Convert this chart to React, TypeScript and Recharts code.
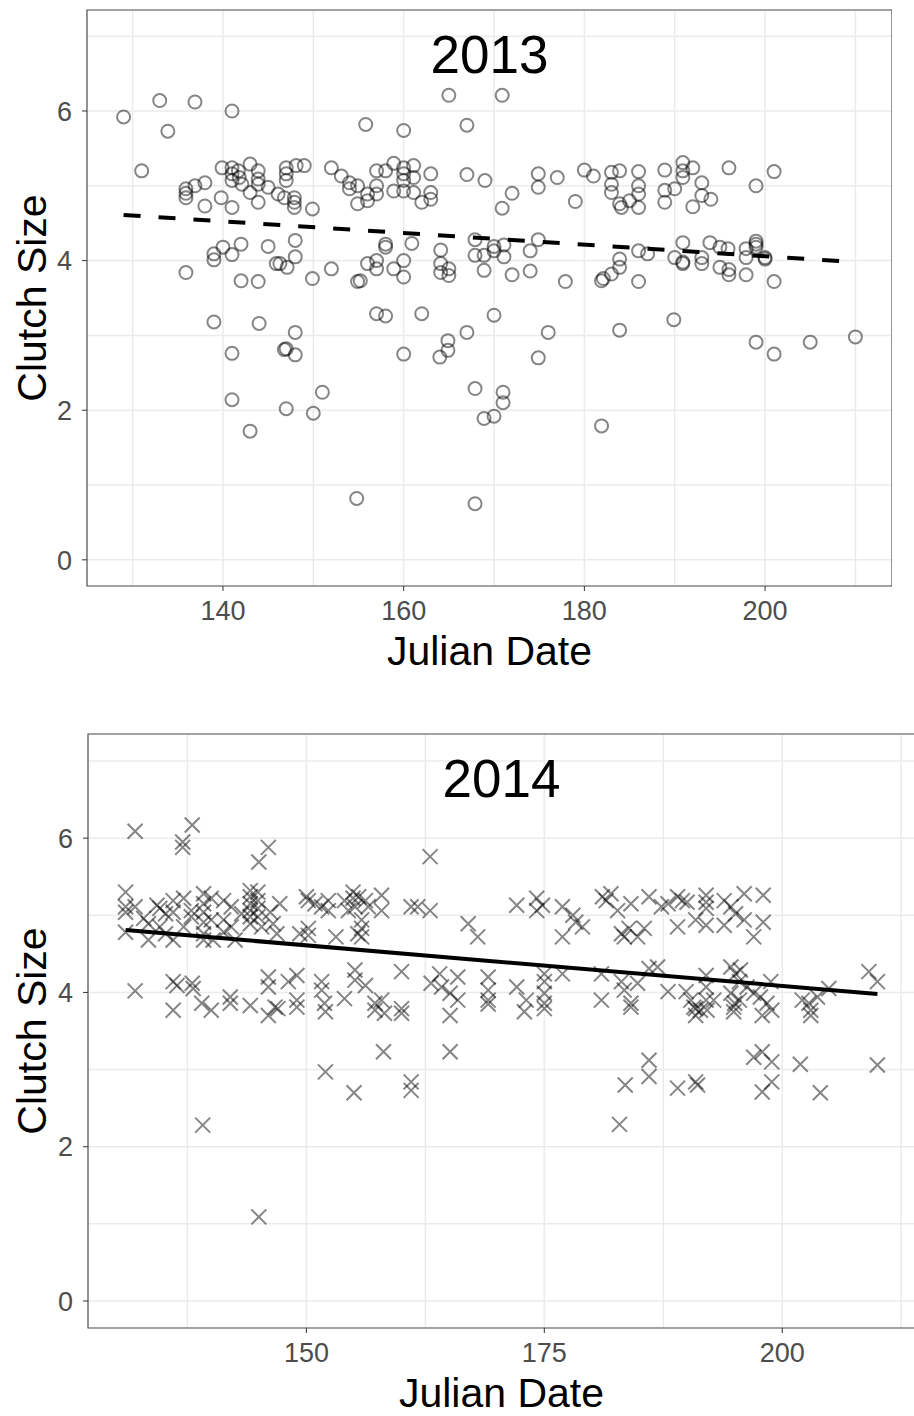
import { ScatterChart, Scatter, XAxis, YAxis, CartesianGrid, ReferenceArea, ReferenceLine, Label } from 'recharts';

// 2013 season: julian date of first egg and clutch size (jittered)
const date2013 = [
  129.0, 133.0, 136.9, 133.9, 141.0, 131.0, 135.9, 135.9, 135.9, 136.9, 138.0, 138.0, 139.9, 139.8, 141.0, 141.0,
  141.0, 141.0, 141.7, 141.8, 142.1, 143.0, 143.0, 143.9, 143.9, 143.9, 143.9, 145.0, 146.1, 147.0, 147.0, 147.0,
  146.8, 147.9, 147.9, 147.9, 148.1, 149.0, 149.9, 152.0, 153.1, 154.0, 154.0, 154.9, 154.9, 155.8, 140.0, 142.0,
  139.0, 139.0, 141.0, 145.0, 148.0, 148.0, 145.9, 146.3, 147.1, 135.9, 142.0, 143.9, 149.9, 152.0, 154.9, 139.0,
  144.0, 148.0, 141.0, 147.0, 146.8, 148.0, 151.0, 141.0, 147.0, 150.0, 143.0, 154.8, 165.0, 170.9, 160.0, 167.0,
  156.0, 156.0, 157.0, 157.0, 157.0, 158.0, 158.9, 158.9, 160.0, 160.0, 160.0, 160.0, 161.1, 161.1, 161.1, 162.0,
  163.0, 163.0, 163.0, 167.0, 169.0, 172.0, 170.9, 174.9, 174.9, 177.0, 179.0, 180.0, 181.0, 183.0, 183.0, 183.0,
  183.9, 183.9, 184.1, 185.0, 158.0, 158.0, 160.9, 164.1, 167.9, 170.0, 170.0, 171.1, 174.0, 174.9, 155.2, 156.0,
  157.0, 157.0, 158.9, 160.0, 160.0, 164.1, 164.1, 165.0, 165.0, 167.9, 168.9, 168.9, 171.1, 172.0, 174.0, 177.9,
  181.9, 182.1, 183.0, 183.9, 183.9, 157.0, 158.0, 162.0, 170.0, 164.9, 164.9, 167.0, 160.0, 164.0, 176.0, 174.9,
  183.9, 167.9, 171.0, 171.0, 168.9, 170.0, 181.9, 167.9, 186.0, 186.0, 186.0, 186.0, 188.9, 188.9, 188.9, 190.0,
  190.9, 190.9, 190.9, 192.0, 193.0, 193.0, 192.0, 194.0, 196.0, 199.0, 201.0, 186.0, 187.0, 186.0, 190.9, 190.0,
  190.9, 190.9, 193.0, 193.0, 193.9, 195.0, 195.9, 195.0, 196.0, 196.0, 197.9, 197.9, 197.9, 199.0, 199.0, 199.0,
  200.0, 200.0, 201.0, 189.9, 199.0, 201.0, 205.0, 210.0,
];
const clutch2013 = [
  5.92, 6.14, 6.12, 5.73, 6.0, 5.2, 4.96, 4.9, 4.84, 5.0, 5.04, 4.73, 5.24, 4.84, 5.24, 5.16,
  5.07, 4.71, 5.2, 5.11, 5.02, 5.29, 4.91, 5.2, 5.09, 5.02, 4.78, 4.98, 4.89, 5.24, 5.16, 5.07,
  4.84, 4.84, 4.78, 4.71, 5.27, 5.27, 4.69, 5.24, 5.13, 5.04, 4.96, 5.0, 4.76, 5.82, 4.18, 4.22,
  4.09, 4.01, 4.08, 4.19, 4.27, 4.05, 3.96, 3.96, 3.91, 3.84, 3.73, 3.72, 3.76, 3.89, 3.72, 3.18,
  3.16, 3.04, 2.76, 2.82, 2.81, 2.74, 2.24, 2.14, 2.02, 1.96, 1.72, 0.82, 6.21, 6.21, 5.74, 5.81,
  4.89, 4.8, 5.2, 5.0, 4.89, 5.2, 5.3, 4.93, 5.24, 5.16, 5.07, 4.93, 5.27, 5.11, 4.91, 4.78,
  5.16, 4.91, 4.82, 5.15, 5.07, 4.9, 4.7, 5.16, 4.98, 5.11, 4.79, 5.21, 5.13, 5.18, 5.02, 4.91,
  5.2, 4.76, 4.71, 4.8, 4.22, 4.18, 4.23, 4.14, 4.28, 4.19, 4.13, 4.21, 4.13, 4.28, 3.73, 3.96,
  4.0, 3.89, 3.89, 4.0, 3.78, 3.96, 3.84, 3.89, 3.8, 4.07, 4.07, 3.87, 4.05, 3.81, 3.86, 3.72,
  3.73, 3.76, 3.82, 4.02, 3.91, 3.29, 3.26, 3.29, 3.27, 2.93, 2.8, 3.04, 2.75, 2.71, 3.04, 2.7,
  3.07, 2.29, 2.24, 2.1, 1.89, 1.92, 1.79, 0.75, 5.19, 5.0, 4.89, 4.71, 5.21, 4.94, 4.78, 4.96,
  5.31, 5.2, 5.11, 5.24, 5.04, 4.87, 4.72, 4.82, 5.24, 5.0, 5.19, 4.13, 4.09, 3.72, 4.24, 4.04,
  3.98, 3.96, 4.04, 3.96, 4.24, 4.18, 4.16, 3.91, 3.88, 3.81, 4.16, 4.04, 3.81, 4.26, 4.22, 4.18,
  4.04, 4.02, 3.72, 3.21, 2.91, 2.75, 2.91, 2.98,
];

// 2014 season
const date2014 = [
  132.0, 138.0, 137.0, 137.0, 146.0, 145.0, 131.0, 131.0, 131.0, 131.0, 132.0, 132.9, 133.4, 133.4, 134.3, 134.6,
  135.2, 134.6, 135.2, 136.0, 136.0, 136.0, 137.1, 137.1, 137.9, 137.9, 139.2, 139.2, 139.2, 139.2, 139.2, 139.2,
  140.0, 140.0, 140.2, 141.3, 141.3, 141.3, 142.1, 142.1, 142.5, 143.2, 144.1, 144.1, 144.1, 144.1, 144.1, 144.1,
  144.9, 144.9, 144.9, 144.9, 145.3, 146.2, 146.5, 146.9, 147.2, 149.3, 150.0, 150.2, 150.2, 150.2, 150.9, 151.6,
  152.3, 152.3, 153.1, 154.0, 154.4, 154.9, 154.9, 155.1, 155.4, 132.0, 136.0, 136.4, 138.0, 138.1, 136.0, 139.0,
  140.0, 142.0, 142.0, 144.1, 146.0, 146.0, 148.1, 149.0, 149.0, 149.0, 146.7, 151.6, 151.6, 151.9, 154.0, 155.1,
  155.1, 152.0, 152.0, 155.0, 139.1, 145.0, 146.0, 147.0, 163.0, 155.5, 156.2, 156.5, 157.9, 157.9, 155.8, 155.8,
  155.8, 161.0, 161.7, 163.0, 167.0, 168.0, 172.1, 174.2, 174.2, 174.8, 176.9, 176.9, 178.0, 178.3, 179.0, 181.1,
  181.5, 182.0, 182.7, 183.1, 183.4, 160.0, 156.2, 157.2, 157.9, 160.0, 163.1, 164.0, 164.2, 165.1, 165.9, 165.9,
  169.1, 169.1, 169.1, 172.1, 173.1, 175.0, 175.0, 175.0, 175.0, 176.9, 181.0, 181.0, 183.1, 183.4, 157.2, 158.2,
  160.0, 165.1, 169.1, 172.9, 175.0, 158.1, 165.1, 161.0, 161.0, 183.5, 182.9, 184.1, 186.0, 187.3, 188.0, 189.0,
  189.5, 190.0, 192.0, 192.0, 192.0, 193.9, 194.6, 196.0, 198.0, 183.9, 185.5, 184.8, 189.0, 190.9, 192.0, 193.9,
  195.1, 196.0, 197.0, 198.0, 186.0, 186.9, 184.8, 184.1, 188.0, 189.9, 190.4, 190.7, 191.4, 192.0, 192.0, 192.0,
  192.8, 194.6, 195.1, 195.5, 195.6, 194.6, 195.0, 195.5, 196.3, 197.0, 197.7, 198.4, 198.8, 202.1, 202.8, 203.7,
  204.9, 209.1, 210.0, 184.1, 190.9, 190.9, 192.1, 194.9, 194.9, 197.9, 198.9, 203.0, 203.0, 186.0, 186.0, 189.0,
  190.9, 191.1, 197.0, 197.9, 198.9, 197.9, 198.9, 201.9, 204.0, 210.0,
];
const clutch2014 = [
  6.09, 6.17, 5.95, 5.88, 5.88, 5.69, 5.3, 5.11, 5.04, 4.78, 5.11, 4.96, 4.89, 4.68, 5.13, 5.09,
  5.02, 4.85, 4.76, 5.19, 5.04, 4.68, 5.22, 4.85, 5.06, 4.98, 5.28, 5.15, 5.04, 4.91, 4.76, 4.68,
  5.22, 4.94, 4.68, 5.19, 4.94, 4.78, 5.11, 4.85, 4.68, 5.02, 5.32, 5.24, 5.15, 5.06, 4.98, 4.89,
  5.3, 5.19, 5.09, 4.98, 4.85, 5.04, 4.89, 4.76, 5.15, 4.76, 5.24, 5.19, 4.83, 4.74, 5.15, 5.11,
  5.19, 5.06, 4.72, 5.19, 5.06, 5.3, 5.22, 5.11, 4.76, 4.02, 4.14, 4.09, 4.12, 4.05, 3.77, 3.86,
  3.77, 3.94, 3.86, 3.83, 4.2, 4.07, 4.14, 4.22, 3.9, 3.81, 3.81, 4.14, 4.03, 3.86, 3.92, 4.29,
  4.16, 3.75, 2.97, 2.7, 2.28, 1.09, 3.7, 3.79, 5.76, 5.24, 5.19, 5.11, 5.26, 5.06, 4.94, 4.83,
  4.72, 5.11, 5.11, 5.06, 4.89, 4.72, 5.13, 5.22, 5.06, 5.13, 5.11, 4.72, 5.0, 4.91, 4.85, 5.24,
  5.19, 5.28, 5.06, 4.76, 4.72, 4.27, 4.09, 3.86, 3.9, 3.79, 4.12, 4.24, 4.07, 3.99, 4.2, 3.9,
  4.2, 4.03, 3.9, 4.07, 3.9, 4.24, 4.14, 3.99, 3.86, 4.24, 4.24, 3.9, 4.14, 4.03, 3.77, 3.73,
  3.73, 3.7, 3.85, 3.75, 3.79, 3.23, 3.23, 2.84, 2.73, 2.8, 2.29, 5.15, 5.24, 5.11, 5.15, 5.24,
  5.19, 5.17, 5.26, 5.17, 5.09, 5.19, 5.11, 5.28, 5.26, 4.83, 4.83, 4.72, 4.85, 4.94, 4.87, 4.87,
  5.02, 4.94, 4.72, 4.91, 4.31, 4.33, 4.12, 3.86, 4.01, 4.01, 3.9, 3.81, 3.77, 4.22, 4.07, 3.9,
  3.9, 4.33, 4.24, 4.14, 4.29, 3.99, 3.86, 3.9, 4.07, 3.99, 3.94, 3.86, 4.14, 3.9, 3.86, 3.94,
  4.05, 4.27, 4.14, 3.81, 3.79, 3.7, 3.77, 3.81, 3.75, 3.7, 3.77, 3.77, 3.7, 3.12, 2.91, 2.76,
  2.84, 2.8, 3.16, 3.23, 3.1, 2.71, 2.84, 3.07, 2.7, 3.06,
];

// fitted regression lines, endpoints at the first and last nest
const trend2013 = [{ x: 129.0, y: 4.61 }, { x: 210.0, y: 3.98 }];
const trend2014 = [{ x: 131.0, y: 4.81 }, { x: 210.0, y: 3.98 }];

const majorX2013 = [140, 160, 180, 200];
const gridX2013 = [130, 140, 150, 160, 170, 180, 190, 200, 210];
const majorX2014 = [150, 175, 200];
const gridX2014 = [137.5, 150, 162.5, 175, 187.5, 200, 212.5];
const majorY = [0, 2, 4, 6];
const gridY = [0, 1, 2, 3, 4, 5, 6, 7];

const FONT = '"Liberation Sans", Arial, sans-serif';
const TICK_SIZE = 5;
const TICK_GAP = 10;

const pts2013 = date2013.map((x, i) => ({ x, y: clutch2013[i] }));
const pts2014 = date2014.map((x, i) => ({ x, y: clutch2014[i] }));

const OpenCircle = (p: any) => (
  <circle cx={p.cx} cy={p.cy} r={6.5} fill="none" stroke="rgba(0,0,0,0.48)" strokeWidth={2} />
);

const Cross = (p: any) => {
  const s = 7.5;
  return (
    <path
      d={`M${p.cx - s},${p.cy - s}L${p.cx + s},${p.cy + s}M${p.cx - s},${p.cy + s}L${p.cx + s},${p.cy - s}`}
      stroke="rgba(0,0,0,0.48)"
      strokeWidth={2}
      fill="none"
    />
  );
};

// tick mark + label, drawn only for the labelled (major) breaks
const makeXTick = (major: number[]) => (p: any) => {
  const v = p.payload.value;
  if (!major.includes(v)) return <g />;
  const top = p.y - TICK_GAP - TICK_SIZE;
  return (
    <g>
      <line x1={p.x} x2={p.x} y1={top} y2={top + TICK_SIZE} stroke="#333" strokeWidth={1} />
      <text x={p.x} y={p.y} dy="0.72em" textAnchor="middle" fontSize={27} fill="#4d4d4d" fontFamily={FONT}>
        {v}
      </text>
    </g>
  );
};

const makeYTick = (major: number[]) => (p: any) => {
  const v = p.payload.value;
  if (!major.includes(v)) return <g />;
  const right = p.x + TICK_GAP + TICK_SIZE;
  return (
    <g>
      <line x1={right - TICK_SIZE} x2={right} y1={p.y} y2={p.y} stroke="#333" strokeWidth={1} />
      <text x={p.x} y={p.y} dy="0.36em" textAnchor="end" fontSize={27} fill="#4d4d4d" fontFamily={FONT}>
        {v}
      </text>
    </g>
  );
};

const xTitle = (dy: number) => (props: any) => {
  const vb = props.viewBox;
  return (
    <text x={vb.x + vb.width / 2} y={vb.y + dy} textAnchor="middle" dominantBaseline="central" fontSize={41} fill="#000" fontFamily={FONT}>
      Julian Date
    </text>
  );
};

const yTitle = (props: any) => {
  const vb = props.viewBox;
  const cx = vb.x + 32;
  const cy = vb.y + vb.height / 2;
  return (
    <text x={cx} y={cy} transform={`rotate(-90 ${cx} ${cy})`} textAnchor="middle" dominantBaseline="central" fontSize={41} fill="#000" fontFamily={FONT}>
      Clutch Size
    </text>
  );
};

const panelTitle = (title: string) => (props: any) => {
  const vb = props.viewBox;
  return (
    <text x={vb.x + vb.width / 2} y={vb.y + 44} textAnchor="middle" dominantBaseline="central" fontSize={53} fill="#000" fontFamily={FONT}>
      {title}
    </text>
  );
};

type PanelProps = {
  title: string;
  data: { x: number; y: number }[];
  trend: { x: number; y: number }[];
  dashed: boolean;
  xDomain: [number, number];
  gridX: number[];
  majorX: number[];
  width: number;
  height: number;
  marginTop: number;
  axisWidth: number;
  axisHeight: number;
  titleOffset: number;
  shape: (p: any) => any;
};

function Panel(props: PanelProps) {
  const yDomain: [number, number] = [-0.35, 7.35];
  return (
    <ScatterChart
      width={props.width}
      height={props.height}
      margin={{ top: props.marginTop, right: 0, left: 0, bottom: 0 }}
      style={{ fontFamily: FONT }}
    >
      <CartesianGrid stroke="#ebebeb" strokeWidth={1.5} />
      <XAxis
        type="number"
        dataKey="x"
        domain={props.xDomain}
        ticks={props.gridX}
        allowDataOverflow
        axisLine={false}
        tickLine={false}
        tickSize={TICK_SIZE}
        tickMargin={TICK_GAP}
        interval={0}
        height={props.axisHeight}
        tick={makeXTick(props.majorX)}
      >
        <Label content={xTitle(props.titleOffset)} />
      </XAxis>
      <YAxis
        type="number"
        dataKey="y"
        domain={yDomain}
        ticks={gridY}
        allowDataOverflow
        axisLine={false}
        tickLine={false}
        tickSize={TICK_SIZE}
        tickMargin={TICK_GAP}
        interval={0}
        width={props.axisWidth}
        tick={makeYTick(majorY)}
      >
        <Label content={yTitle} />
      </YAxis>
      <Scatter data={props.data} shape={props.shape} isAnimationActive={false} />
      <ReferenceLine
        segment={props.trend}
        stroke="#000"
        strokeWidth={4}
        strokeDasharray={props.dashed ? '17 18' : undefined}
        ifOverflow="visible"
      />
      <ReferenceArea
        x1={props.xDomain[0]}
        x2={props.xDomain[1]}
        y1={yDomain[0]}
        y2={yDomain[1]}
        fill="none"
        fillOpacity={0}
        stroke="#555"
        strokeWidth={1.2}
        ifOverflow="visible"
        label={panelTitle(props.title)}
      />
    </ScatterChart>
  );
}

export default function App() {
  return (
    <div style={{ position: 'absolute', left: 0, top: 0, width: 914, height: 1416, overflow: 'hidden', background: '#fff' }}>
      <div style={{ position: 'absolute', left: 0, top: 0 }}>
        <Panel
          title="2013"
          data={pts2013}
          trend={trend2013}
          dashed
          xDomain={[124.95, 214.05]}
          gridX={gridX2013}
          majorX={majorX2013}
          width={892}
          height={690}
          marginTop={10}
          axisWidth={87}
          axisHeight={104}
          titleOffset={65}
          shape={OpenCircle}
        />
      </div>
      <div style={{ position: 'absolute', left: 0, top: 700 }}>
        <Panel
          title="2014"
          data={pts2014}
          trend={trend2014}
          dashed={false}
          xDomain={[127.05, 213.95]}
          gridX={gridX2014}
          majorX={majorX2014}
          width={915}
          height={716}
          marginTop={34}
          axisWidth={88}
          axisHeight={88}
          titleOffset={65}
          shape={Cross}
        />
      </div>
    </div>
  );
}
